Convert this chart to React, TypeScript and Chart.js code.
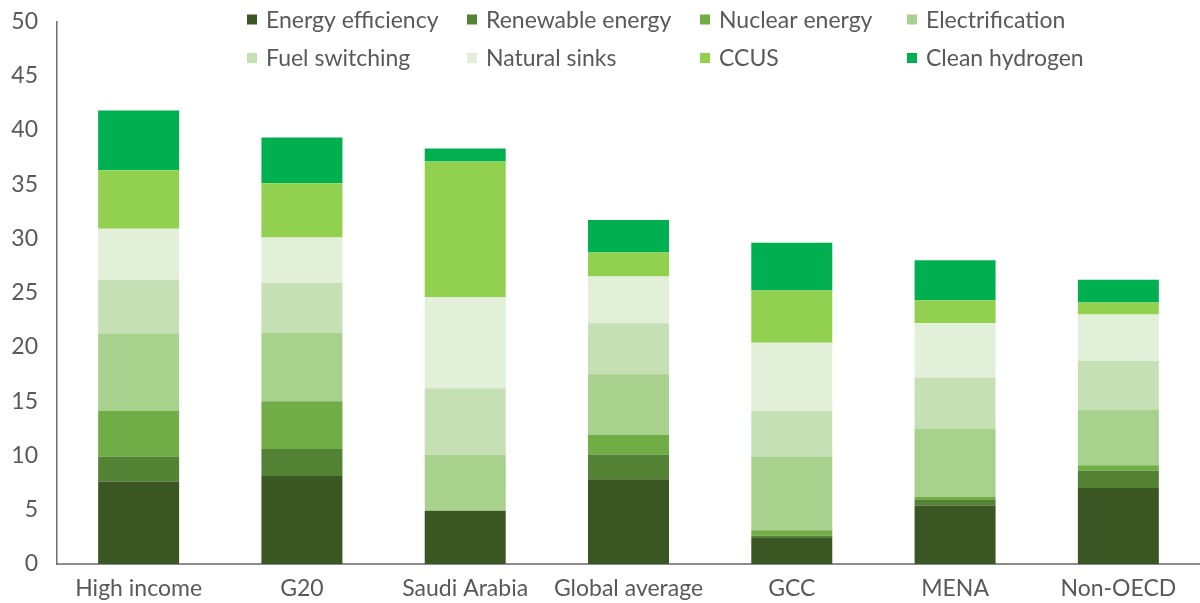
import React, { useEffect, useRef } from "react";
import { Chart, registerables } from "chart.js";

Chart.register(...registerables);

const categories = ["High income", "G20", "Saudi Arabia", "Global average", "GCC", "MENA", "Non-OECD"];

const energyEfficiency = [7.6, 8.1, 4.9, 7.8, 2.4, 5.4, 7.0];
const renewableEnergy = [2.3, 2.5, 0, 2.3, 0.2, 0.5, 1.6];
const nuclearEnergy = [4.2, 4.4, 0, 1.8, 0.5, 0.3, 0.5];
const electrification = [7.1, 6.3, 5.2, 5.6, 6.8, 6.3, 5.1];
const fuelSwitching = [5.0, 4.6, 6.1, 4.7, 4.2, 4.7, 4.5];
const naturalSinks = [4.7, 4.2, 8.4, 4.3, 6.3, 5.0, 4.3];
const ccus = [5.4, 5.0, 12.5, 2.2, 4.8, 2.1, 1.1];
const cleanHydrogen = [5.5, 4.2, 1.2, 3.0, 4.4, 3.7, 2.1];

const seriesNames = [
  "Energy efficiency",
  "Renewable energy",
  "Nuclear energy",
  "Electrification",
  "Fuel switching",
  "Natural sinks",
  "CCUS",
  "Clean hydrogen",
];
const seriesValues = [
  energyEfficiency,
  renewableEnergy,
  nuclearEnergy,
  electrification,
  fuelSwitching,
  naturalSinks,
  ccus,
  cleanHydrogen,
];
const seriesColors = ["#3a5622", "#548235", "#70ad47", "#a9d18e", "#c5e0b4", "#e2f0d9", "#92d050", "#00b050"];

const yTicks = [0, 5, 10, 15, 20, 25, 30, 35, 40, 45, 50];

const FONT = "Lato, 'Open Sans', sans-serif";
const TEXT = "#595959";
const FONT_SIZE = 23;

// Legend drawn as a 4-column grid over the empty top of the plot
const gridLegend = {
  id: "gridLegend",
  afterDraw(chart: any) {
    const ctx = chart.ctx;
    const colX = [247, 467, 700, 907];
    const rowY = [19.5, 58];
    const box = 10;
    ctx.save();
    ctx.font = `${FONT_SIZE}px ${FONT}`;
    ctx.textBaseline = "middle";
    ctx.textAlign = "left";
    chart.data.datasets.forEach((ds: any, i: number) => {
      const x = colX[i % 4];
      const y = rowY[Math.floor(i / 4)];
      ctx.fillStyle = ds.backgroundColor;
      ctx.fillRect(x, y - box / 2, box, box);
      ctx.fillStyle = TEXT;
      ctx.fillText(ds.label, x + 19, y + 1);
    });
    ctx.restore();
  },
};

export default function App() {
  const canvasRef = useRef<HTMLCanvasElement | null>(null);

  useEffect(() => {
    if (!canvasRef.current) return;
    const chart = new Chart(canvasRef.current, {
      type: "bar",
      data: {
        labels: categories,
        datasets: seriesNames.map((name, i) => ({
          label: name,
          data: seriesValues[i],
          backgroundColor: seriesColors[i],
          borderWidth: 0,
          barPercentage: 0.496,
          categoryPercentage: 1,
        })),
      },
      options: {
        animation: false,
        responsive: false,
        maintainAspectRatio: false,
        layout: { padding: { top: 21.5, right: 0, bottom: 0, left: 0 } },
        plugins: {
          legend: { display: false },
          tooltip: { enabled: false },
        },
        scales: {
          x: {
            stacked: true,
            grid: { display: false, drawTicks: false },
            border: { display: true, color: "#8c8c8c", width: 2 },
            ticks: {
              color: TEXT,
              font: { family: FONT, size: FONT_SIZE },
              padding: 11,
              maxRotation: 0,
              autoSkip: false,
            },
            afterFit(scale: any) {
              scale.height = 39;
              scale.paddingLeft = 0;
              scale.paddingRight = 0;
            },
          },
          y: {
            stacked: true,
            min: 0,
            max: 50,
            afterBuildTicks(scale: any) {
              scale.ticks = yTicks.map((v) => ({ value: v }));
            },
            grid: { display: false, drawTicks: false },
            border: { display: true, color: "#6e6e6e", width: 1.5 },
            ticks: {
              color: TEXT,
              font: { family: FONT, size: FONT_SIZE },
              padding: 19,
            },
            afterFit(scale: any) {
              scale.width = 57;
              scale.paddingTop = 0;
              scale.paddingBottom = 0;
            },
          },
        },
      },
      plugins: [gridLegend],
    });
    return () => chart.destroy();
  }, []);

  return (
    <div style={{ position: "fixed", left: 0, top: 0, width: 1200, height: 603, background: "#fff" }}>
      <canvas ref={canvasRef} width={1200} height={603} style={{ display: "block", width: 1200, height: 603 }} />
    </div>
  );
}
